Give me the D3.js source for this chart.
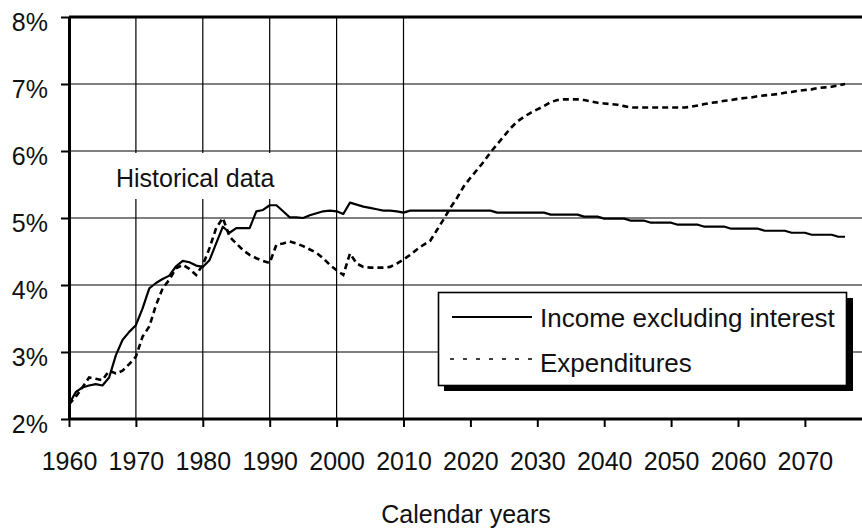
<!DOCTYPE html>
<html>
<head>
<meta charset="utf-8">
<script src="https://cdn.jsdelivr.net/npm/d3@7/dist/d3.min.js"></script>
<style>
  html, body { margin: 0; padding: 0; background: #fff; }
  svg { display: block; font-family: "Liberation Sans", Arial, sans-serif; }
</style>
</head>
<body>
<svg id="chart" width="862" height="531"></svg>
<script>
// ---- Data ----
const incomeYears = d3.range(1960, 2077);
const incomeValues = [
  2.22, 2.40, 2.47, 2.50, 2.52, 2.50, 2.62, 2.95, 3.18, 3.30,   // 1960-69
  3.40, 3.65, 3.95, 4.03, 4.09, 4.14, 4.28, 4.36, 4.34, 4.29,   // 1970-79
  4.27, 4.37, 4.62, 4.87, 4.78, 4.85, 4.85, 4.85, 5.10, 5.12,   // 1980-89
  5.19, 5.19, 5.10, 5.01, 5.01, 5.00, 5.04, 5.07, 5.10, 5.11,   // 1990-99
  5.10, 5.06, 5.23, 5.20, 5.17, 5.15, 5.13, 5.11, 5.11, 5.10,   // 2000-09
  5.08, 5.11, 5.11, 5.11, 5.11, 5.11, 5.11, 5.11, 5.11, 5.11,   // 2010-19
  5.11, 5.11, 5.11, 5.11, 5.08, 5.08, 5.08, 5.08, 5.08, 5.08,   // 2020-29
  5.08, 5.08, 5.05, 5.05, 5.05, 5.05, 5.05, 5.02, 5.02, 5.02,   // 2030-39
  4.99, 4.99, 4.99, 4.99, 4.96, 4.96, 4.96, 4.93, 4.93, 4.93,   // 2040-49
  4.93, 4.90, 4.90, 4.90, 4.90, 4.87, 4.87, 4.87, 4.87, 4.84,   // 2050-59
  4.84, 4.84, 4.84, 4.84, 4.81, 4.81, 4.81, 4.81, 4.78, 4.78,   // 2060-69
  4.78, 4.75, 4.75, 4.75, 4.75, 4.72, 4.72                      // 2070-76
];
const expYears = d3.range(1960, 2077);
const expValues = [
  2.22, 2.33, 2.47, 2.62, 2.60, 2.58, 2.72, 2.68, 2.72, 2.82,   // 1960-69
  2.93, 3.23, 3.38, 3.70, 3.95, 4.08, 4.25, 4.30, 4.24, 4.15,   // 1970-79
  4.30, 4.55, 4.85, 5.00, 4.72, 4.62, 4.52, 4.45, 4.40, 4.36,   // 1980-89
  4.33, 4.60, 4.62, 4.65, 4.62, 4.58, 4.53, 4.48, 4.40, 4.30,   // 1990-99
  4.22, 4.15, 4.47, 4.32, 4.27, 4.26, 4.26, 4.26, 4.27, 4.32,   // 2000-09
  4.38, 4.45, 4.53, 4.60, 4.66, 4.82, 4.98, 5.15, 5.30, 5.47,   // 2010-19
  5.60, 5.72, 5.84, 5.98, 6.10, 6.22, 6.34, 6.44, 6.51, 6.57,   // 2020-29
  6.62, 6.67, 6.73, 6.76, 6.77, 6.77, 6.77, 6.76, 6.74, 6.72,   // 2030-39
  6.71, 6.70, 6.69, 6.67, 6.65, 6.65, 6.65, 6.65, 6.65, 6.65,   // 2040-49
  6.65, 6.65, 6.65, 6.66, 6.68, 6.70, 6.72, 6.73, 6.75, 6.76,   // 2050-59
  6.78, 6.79, 6.80, 6.82, 6.83, 6.84, 6.85, 6.87, 6.88, 6.90,   // 2060-69
  6.91, 6.92, 6.94, 6.95, 6.96, 6.98, 7.00                      // 2070-76
];
const xTickYears = [1960, 1970, 1980, 1990, 2000, 2010, 2020, 2030, 2040, 2050, 2060, 2070];
const xGridYears = [1970, 1980, 1990, 2000, 2010];
const yTickValues = [2, 3, 4, 5, 6, 7, 8];
const yGridValues = [3, 4, 5, 6, 7];
const seriesNames = ["Income excluding interest", "Expenditures"];
const annotationText = "Historical data";
const xAxisTitle = "Calendar years";

// ---- Layout ----
const W = 862, H = 531;
const mLeft = 69, mTop = 17, mBottom = 419, mRight = 862;
const svg = d3.select("#chart");
const fontSize = 25;
const ff = "Liberation Sans, Arial, sans-serif";

const x = d3.scaleLinear().domain([1960, 2080]).range([mLeft, mLeft + 120 * 6.69]);
const y = d3.scaleLinear().domain([2, 8]).range([mBottom, mTop]);

// grid lines
svg.append("g").selectAll("line").data(yGridValues).join("line")
  .attr("x1", mLeft).attr("x2", mRight)
  .attr("y1", d => y(d)).attr("y2", d => y(d))
  .attr("stroke", "#000").attr("stroke-width", 1.2);
svg.append("g").selectAll("line").data(xGridYears).join("line")
  .attr("x1", d => x(d)).attr("x2", d => x(d))
  .attr("y1", mTop).attr("y2", mBottom)
  .attr("stroke", "#000").attr("stroke-width", 1.2);

// white box behind annotation
svg.append("rect").attr("x", 108).attr("y", 153).attr("width", 178).attr("height", 46).attr("fill", "#fff");
svg.append("text").attr("x", 116).attr("y", 187).attr("font-size", fontSize).attr("fill", "#111")
  .text(annotationText);

// top border
svg.append("line").attr("x1", mLeft).attr("x2", mRight).attr("y1", y(8)).attr("y2", y(8))
  .attr("stroke", "#000").attr("stroke-width", 3);

// axes
const yAxis = d3.axisLeft(y).tickValues(yTickValues).tickSize(8).tickSizeOuter(0)
  .tickFormat(d => d + "%");
const gy = svg.append("g").attr("transform", `translate(${mLeft},0)`).call(yAxis);
gy.select(".domain").attr("stroke-width", 3);
gy.selectAll(".tick line").attr("stroke-width", 2);
gy.selectAll(".tick text").attr("font-size", fontSize).attr("font-family", ff)
  .attr("fill", "#111").attr("x", -21).attr("dy", "0.72em").attr("y", -5);

const xAxis = d3.axisBottom(x).tickValues(xTickYears).tickSize(8).tickSizeOuter(0)
  .tickFormat(d3.format("d"));
const gx = svg.append("g").attr("transform", `translate(0,${mBottom})`).call(xAxis);
gx.select(".domain").attr("d", `M${mLeft},0H${mRight}`).attr("stroke-width", 3);
gx.selectAll(".tick line").attr("stroke-width", 2);
gx.selectAll(".tick text").attr("font-size", fontSize).attr("font-family", ff)
  .attr("fill", "#111").attr("y", 51).attr("dy", 0);

// series lines
const line = d3.line().x(d => x(d[0])).y(d => y(d[1]));
const incomeData = incomeYears.map((yr, i) => [yr, incomeValues[i]]);
const expData = expYears.map((yr, i) => [yr, expValues[i]]);

svg.append("path").datum(incomeData).attr("d", line)
  .attr("fill", "none").attr("stroke", "#000").attr("stroke-width", 2.2).attr("stroke-linejoin", "round");
svg.append("path").datum(expData).attr("d", line)
  .attr("fill", "none").attr("stroke", "#000").attr("stroke-width", 2.6)
  .attr("stroke-dasharray", "6,4");

// x axis title
svg.append("text").attr("x", 466).attr("y", 523).attr("text-anchor", "middle")
  .attr("font-size", fontSize).attr("fill", "#111").text(xAxisTitle);

// legend
const lg = svg.append("g");
lg.append("rect").attr("x", 444).attr("y", 298).attr("width", 409).attr("height", 93).attr("fill", "#000");
lg.append("rect").attr("x", 438.5).attr("y", 292.5).attr("width", 408).attr("height", 93)
  .attr("fill", "#fff").attr("stroke", "#000").attr("stroke-width", 1.6);
lg.append("line").attr("x1", 452).attr("x2", 532).attr("y1", 317).attr("y2", 317)
  .attr("stroke", "#000").attr("stroke-width", 1.8);
lg.append("line").attr("x1", 450).attr("x2", 534).attr("y1", 359).attr("y2", 359)
  .attr("stroke", "#000").attr("stroke-width", 1.5).attr("stroke-dasharray", "4,9");
lg.append("text").attr("x", 540).attr("y", 327).attr("font-size", 26).attr("fill", "#111").text(seriesNames[0]);
lg.append("text").attr("x", 540).attr("y", 372).attr("font-size", 26).attr("fill", "#111").text(seriesNames[1]);
</script>
</body>
</html>
